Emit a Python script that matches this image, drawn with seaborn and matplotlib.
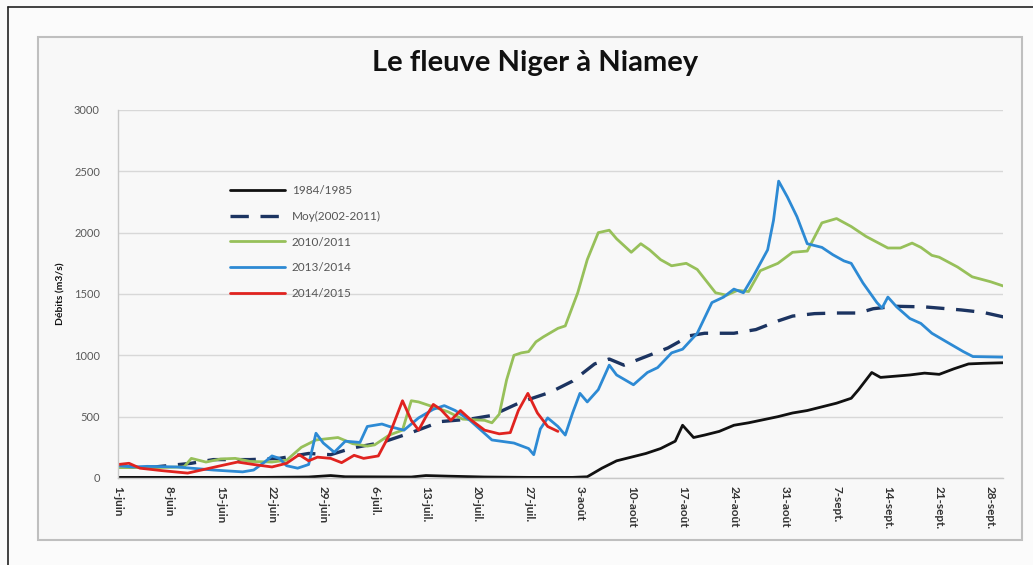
import matplotlib
matplotlib.use("Agg")
import matplotlib.pyplot as plt
import seaborn as sns
from matplotlib.patches import Rectangle
from matplotlib.lines import Line2D

# --- DONNEES (jours depuis le 1er juin, debits en m3/s) ---
tick_days = [0, 7, 14, 21, 28, 35, 42, 49, 56, 63, 70, 77, 84, 91, 98, 105, 112, 119]
tick_labels = ['1-juin', '8-juin', '15-juin', '22-juin', '29-juin', '6-juil.', '13-juil.',
               '20-juil.', '27-juil.', '3-août', '10-août', '17-août', '24-août', '31-août',
               '7-sept.', '14-sept.', '21-sept.', '28-sept.']

jours_1984 = [0, 10, 20, 26, 29, 31, 40, 42, 45, 50, 56, 62, 64, 66, 68, 70, 72, 74, 76, 77,
              78.5, 80, 82, 84, 86, 88, 90, 92, 94, 96, 98, 100, 101, 102.8, 104, 106, 108,
              110, 112, 114, 116, 118, 121]
debit_1984 = [5, 5, 5, 8, 20, 10, 8, 20, 15, 8, 5, 5, 10, 80, 140, 170, 200, 240, 300, 430,
              330, 350, 380, 430, 450, 475, 500, 530, 550, 580, 610, 650, 720, 860, 820, 830,
              840, 855, 845, 890, 930, 935, 940]

jours_moy = [0, 5, 10, 13, 18, 22, 26, 29, 32, 36, 40, 44, 48, 51, 55, 59, 62, 65, 67, 69,
             72, 75, 78, 80, 84, 87, 90, 92, 95, 98, 101, 103, 106, 110, 115, 118, 121]
debit_moy = [90, 90, 120, 150, 150, 160, 200, 190, 245, 290, 370, 460, 480, 510, 620, 700,
             790, 930, 970, 920, 990, 1060, 1160, 1180, 1180, 1210, 1280, 1320, 1340, 1345,
             1345, 1380, 1400, 1395, 1370, 1350, 1310]

jours_2010 = [0, 5, 9, 10, 12, 14, 16, 18, 21, 23, 25, 27, 30, 32, 34, 35, 37, 38.8, 40, 41,
              43, 45, 47, 50, 51, 52, 53, 54, 55, 56, 57, 58, 60, 61, 62.7, 64, 65.5, 67, 68,
              70, 71.3, 72.5, 74, 75.5, 77.5, 79, 81.5, 83, 84.5, 86, 87.6, 90, 92, 94, 96,
              98, 100, 102, 105, 106.7, 108.3, 109.5, 111, 112, 114.5, 116.5, 119, 121]
debit_2010 = [85, 85, 90, 160, 130, 155, 160, 135, 130, 145, 250, 310, 330, 280, 260, 270,
              350, 390, 630, 620, 580, 540, 480, 470, 450, 520, 800, 1000, 1020, 1030, 1110,
              1150, 1220, 1240, 1510, 1780, 2000, 2020, 1950, 1840, 1910, 1860, 1780, 1730,
              1750, 1700, 1510, 1490, 1530, 1520, 1690, 1750, 1840, 1850, 2080, 2115, 2050,
              1970, 1875, 1875, 1915, 1880, 1815, 1800, 1720, 1640, 1600, 1560]

jours_2013 = [0, 2, 4, 8, 10, 13, 17, 18.5, 20, 21, 22, 23, 24.5, 26, 27, 28, 29.5, 31, 33,
              34, 36, 37, 39, 41, 43, 44.5, 46, 48, 49.5, 51, 54, 56, 56.7, 57.6, 58.6, 60,
              61, 62, 63, 64, 65.5, 67, 68, 70.3, 72.2, 73.6, 75.5, 77, 79, 81, 82.6, 84,
              85.3, 86.6, 88.6, 89.4, 90.1, 91.3, 92.6, 94, 96, 97.5, 99, 100, 101.6, 103.5,
              104.2, 105, 106.2, 108, 109.5, 111, 113, 115.3, 116.6, 121]
debit_2013 = [100, 90, 95, 90, 80, 65, 50, 65, 130, 180, 160, 100, 80, 110, 365, 285, 210,
              300, 290, 420, 440, 420, 390, 490, 560, 590, 550, 470, 390, 310, 285, 240, 190,
              400, 490, 420, 350, 530, 690, 620, 720, 920, 840, 760, 860, 900, 1020, 1050,
              1180, 1430, 1475, 1540, 1510, 1640, 1860, 2100, 2420, 2290, 2130, 1910, 1880,
              1820, 1770, 1750, 1590, 1430, 1385, 1475, 1395, 1300, 1260, 1180, 1110, 1030,
              990, 985]

jours_2014 = [0, 1.5, 3, 6, 9.5, 11, 14, 16.3, 18.5, 21, 23, 24.7, 26, 27.2, 29, 30.5, 32.2,
              33.5, 35.5, 37, 38.8, 40, 41, 42, 43, 44, 45.4, 46.7, 48, 50, 52, 53.5, 54.6,
              55.9, 57.2, 58.6, 60]
debit_2014 = [110, 120, 80, 60, 40, 60, 100, 130, 110, 90, 120, 190, 140, 170, 160, 125,
              185, 160, 180, 350, 630, 470, 390, 500, 600, 560, 470, 550, 480, 390, 360, 370,
              550, 690, 530, 420, 380]

series = [
    ('1984/1985', jours_1984, debit_1984, '#111111', '-'),
    ('Moy(2002-2011)', jours_moy, debit_moy, '#1c3461', (0, (5.5, 3.5))),
    ('2010/2011', jours_2010, debit_2010, '#97c05a', '-'),
    ('2013/2014', jours_2013, debit_2013, '#2d8ad4', '-'),
    ('2014/2015', jours_2014, debit_2014, '#e0231f', '-'),
]

# --- FIGURE ---
sns.set_style('white')
plt.rcParams['font.family'] = ['Lato', 'DejaVu Sans']

fig = plt.figure(figsize=(10.33, 5.65), dpi=100)
fig.patch.set_facecolor('#fbfbfb')

# cadre du graphique (derriere les axes)
fig.patches.append(Rectangle((38 / 1033, 1 - 540 / 565), 984 / 1033, 503 / 565,
                             transform=fig.transFigure, facecolor='#f8f8f8',
                             edgecolor='#bfbfbf', linewidth=1.5, zorder=-5))
fig.lines.append(Line2D([8 / 1033, 8 / 1033], [0, 1 - 7 / 565], transform=fig.transFigure,
                        color='#222222', linewidth=1.2, zorder=-5))
fig.lines.append(Line2D([8 / 1033, 1], [1 - 7 / 565, 1 - 7 / 565], transform=fig.transFigure,
                        color='#222222', linewidth=1.2, zorder=-5))

ax = fig.add_axes([118 / 1033, 87 / 565, 885 / 1033, 368 / 565])
ax.set_zorder(2)
ax.set_facecolor('#f8f8f8')

for nom, jours, debits, couleur, style in series:
    lw = 2.4 if nom.startswith('Moy') else 2.0
    sns.lineplot(x=jours, y=debits, ax=ax, color=couleur, linestyle=style,
                 linewidth=lw, label=nom, sort=False)

ax.set_xlim(0, 120.7)
ax.set_ylim(0, 3000)
ax.set_yticks(range(0, 3001, 500))
ax.set_xticks(tick_days)
ax.set_xticklabels(tick_labels, rotation=270, fontsize=8.5, color='#333333', fontweight='bold')
ax.tick_params(axis='y', labelsize=8, colors='#595959', length=0, pad=13)
ax.tick_params(axis='x', direction='in', length=3, color='#bfbfbf', pad=6)
ax.grid(axis='y', color='#d8d8d8', linewidth=1.0)
ax.grid(axis='x', visible=False)
for s in ['top', 'right']:
    ax.spines[s].set_visible(False)
for s in ['left', 'bottom']:
    ax.spines[s].set_color('#c8c8c8')
    ax.spines[s].set_linewidth(1.0)

ax.set_xlabel('')
ax.set_ylabel('Débits (m3/s)', fontsize=7.5, fontweight='bold', color='#111111', labelpad=6)

leg = ax.legend(loc='upper left', bbox_to_anchor=(0.115, 0.825), frameon=False, fontsize=8.5,
                handlelength=4.6, labelspacing=1.25, handletextpad=0.6)
for t in leg.get_texts():
    t.set_color('#555555')

fig.text(0.518, 1 - 63 / 565, 'Le fleuve Niger à Niamey', ha='center', va='center',
         fontsize=21, fontweight='bold', color='#111111')

plt.savefig('out.png', dpi=100, facecolor=fig.get_facecolor())
